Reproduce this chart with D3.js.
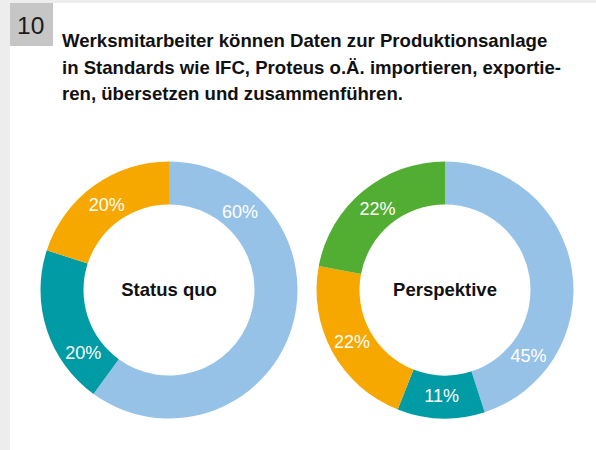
<!DOCTYPE html>
<html>
<head>
<meta charset="utf-8">
<script src="https://cdn.jsdelivr.net/npm/d3@7"></script>
<style>
  html, body { margin: 0; padding: 0; background: #ededed; }
  svg { display: block; }
</style>
</head>
<body>
<svg id="chart" width="596" height="450"></svg>
<script>
// Daten
const chartNumber = '10'
const titleLines = [
    'Werksmitarbeiter können Daten zur Produktionsanlage',
    'in Standards wie IFC, Proteus o.Ä. importieren, exportie-',
    'ren, übersetzen und zusammenführen.'
]
const statusQuoValues = [60, 20, 20]
const statusQuoColors = ['#97c2e8', '#009ba4', '#f6a800']
const perspektiveValues = [45, 11, 22, 22]
const perspektiveColors = ['#97c2e8', '#009ba4', '#f6a800', '#52ae32']
const chartNames = ['Status quo', 'Perspektive']

const svg = d3.select('#chart')

// Layout
const layout = {
    outer: 128.5,
    inner: 85.5,
    labelR: 106,
    cy: 290,
    cx: [169, 445],
    // Verschiebung der Beschriftung gegenüber der Segmentmitte (Grad)
    labelShift: [[-66, -18, 0], [47, 0, 0, 0]]
}

// weißer Hintergrund
svg.append('rect')
    .attr('x', 10)
    .attr('y', 3)
    .attr('width', 586)
    .attr('height', 447)
    .attr('fill', '#ffffff')

// Nummernbox
svg.append('rect')
    .attr('x', 10)
    .attr('y', 3)
    .attr('width', 43)
    .attr('height', 43)
    .attr('fill', '#c6c6c6')

svg.append('text')
    .text(chartNumber)
    .attr('x', 17)
    .attr('y', 34)
    .attr('font-family', 'Liberation Sans, Arial, sans-serif')
    .attr('font-size', '24.5px')
    .attr('fill', '#1a1a1a')

// Titel
svg.append('g')
    .selectAll('text')
    .data(titleLines)
    .join('text')
    .text((d) => d)
    .attr('x', 62)
    .attr('y', (d, i) => 47 + i * 26.5)
    .attr('font-family', 'Liberation Sans, Arial, sans-serif')
    .attr('font-weight', 'bold')
    .attr('font-size', '18.6px')
    .attr('fill', '#111')

const pie = d3.pie().sort(null).value((d) => d)
const arc = d3.arc().innerRadius(layout.inner).outerRadius(layout.outer)

function drawDonut(values, colors, idx) {
    const g = svg.append('g')
        .attr('transform', `translate(${layout.cx[idx]},${layout.cy})`)
    const arcs = pie(values)

    g.selectAll('path')
        .data(arcs)
        .join('path')
        .attr('d', arc)
        .attr('fill', (d, i) => colors[i])

    g.selectAll('.pct')
        .data(arcs)
        .join('text')
        .attr('class', 'pct')
        .text((d) => d.data + '%')
        .attr('transform', (d, i) => {
            const a = (d.startAngle + d.endAngle) / 2 + (layout.labelShift[idx][i] * Math.PI) / 180
            return `translate(${layout.labelR * Math.sin(a)},${-layout.labelR * Math.cos(a)})`
        })
        .attr('text-anchor', 'middle')
        .attr('dy', '0.36em')
        .attr('font-family', 'Liberation Sans, Arial, sans-serif')
        .attr('font-size', '18px')
        .attr('fill', '#ffffff')

    g.append('text')
        .text(chartNames[idx])
        .attr('text-anchor', 'middle')
        .attr('y', 6)
        .attr('font-family', 'Liberation Sans, Arial, sans-serif')
        .attr('font-weight', 'bold')
        .attr('font-size', '18.5px')
        .attr('fill', '#111')
}

drawDonut(statusQuoValues, statusQuoColors, 0)
drawDonut(perspektiveValues, perspektiveColors, 1)
</script>
</body>
</html>
